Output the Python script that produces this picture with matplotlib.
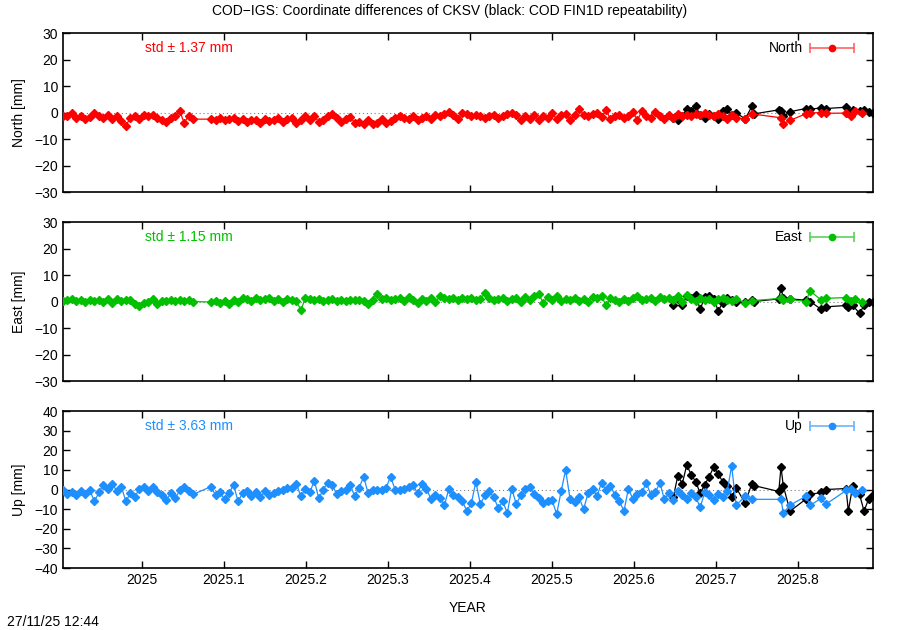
import matplotlib
matplotlib.use("Agg")
import matplotlib.pyplot as plt
import numpy as np

plt.rcParams['font.family'] = ['Liberation Sans', 'DejaVu Sans']
plt.rcParams['font.size'] = 10

# decimal year of day 0
T0 = 2024.9037

# COD-IGS differences, sampled every ~2 days (day offsets from T0)
days_cod = [0, 2, 4, 6, 8, 10, 12, 14, 16, 18, 20, 22, 24, 26, 28, 30, 32, 34, 36, 38,
            40, 42, 44, 46, 48, 50, 52, 54, 56, 58,
            66, 68, 70, 72, 74, 76, 78, 80, 82, 84, 86, 88, 90, 92, 94, 96, 98, 100, 102, 104,
            106, 108, 110, 112, 114, 116, 118, 120, 122, 124, 126, 128, 130,
            132, 134, 136, 138, 140, 142, 144, 146, 148, 150, 152, 154, 156, 158, 160, 162, 164,
            166, 168, 170, 172, 174, 176, 178, 180, 182, 184, 186, 188, 190, 192, 194, 196, 198,
            200, 202, 204, 206, 208, 210, 212, 214, 216, 218, 220, 222, 224, 226, 228, 230, 232,
            234, 236, 238, 240, 242, 244, 246, 248, 250, 252, 254, 256, 258, 260,
            262, 264, 266, 268, 270, 272, 274, 276, 278, 280, 282, 284, 286, 288, 290, 292, 294,
            296, 298, 300,
            304, 307, 320, 321, 324, 331, 333, 338, 340, 349, 351, 353, 356]

north_cod = [-1.5, -1.2, 0.0, -2.0, -1.5, -2.5, -1.8, -0.2, -1.5, -2.0, -0.8, -2.5, -1.2, -3.2, -5.0,
             -2.0, -1.5, -2.3, -1.0, -1.3, -1.1, -2.0, -2.8, -3.5, -2.2, -1.5, 0.4, -3.8, -1.2, -2.5,
             -2.5, -2.8, -2.2, -3.0, -2.5, -2.0, -3.2, -2.6, -3.5, -2.8, -3.0, -3.8, -2.5, -3.2, -2.8,
             -2.0, -3.5, -2.5, -2.0, -4.0, -2.8, -1.5, -3.0, -1.5, -3.5, -2.8, -1.2, -0.5, -2.0, -3.5,
             -2.5, -1.8, -3.8,
             -3.5, -4.2, -3.0, -4.5, -3.8, -2.5, -4.0, -3.2, -2.0, -1.5, -2.0, -2.5, -1.5, -3.0, -2.2,
             -1.2, -2.5, -0.8, -1.5, -0.5, 0.2, -1.0, -2.5, 0.0, -0.5, -1.5, -1.0, -1.2, -2.0, -1.5,
             -1.0, -2.0, -1.3, -0.5, -0.3, -1.0, -3.0, -1.5, -2.5, -0.8, -3.0, -1.2, -2.0, -0.2, -2.5,
             -1.0, -0.5, -2.8, -1.0, 1.5, -0.8, -1.5, -0.5, -0.2, -1.8, 1.0, -2.5, -1.5, -0.8, -2.0,
             -1.2, 0.2, -2.8, 0.5, -1.5,
             -2.0, 0.3, -1.5, -2.5, -1.0, -2.0, -0.5, -1.5, -0.8, -1.2, -0.5, -1.0, 0.0, -0.8, -1.5,
             -0.5, -1.2, -2.5, -1.0, -2.0,
             -2.5, -0.5, -2.0, -4.3, -3.0, -0.5, -0.2, 0.0, -0.3, -0.2, -1.2, 0.5, 0.0]

east_cod = [0.3, 0.5, 0.8, 0.2, 0.6, -0.3, 0.5, 0.2, 0.4, 0.0, 0.8, -0.5, 0.9, 0.3, 0.6,
            0.5, -0.8, -1.8, -0.5, -0.2, 0.8, -0.8, 0.2, 0.3, 0.5, 0.3, 0.6, 0.2, 0.4, 0.0,
            -0.2, 0.2, -0.5, 0.3, -1.0, 0.5, 0.0, 1.5, 1.0, 0.3, 1.3, 0.5, 1.0, 1.5, 0.2,
            0.8, 0.0, 1.0, 0.5, 0.2, -3.2, 1.2, 0.8, 0.5, 1.0, 0.3, 0.6, 0.8, 0.2, 0.5,
            0.3, 0.6, 0.4,
            0.5, 0.2, -0.8, 0.5, 3.0, 1.0, 1.5, 0.5, 0.8, 1.5, 0.3, 1.8, 0.5, -0.5, 1.0,
            0.2, 1.5, -0.2, 2.0, 1.2, 0.8, 1.5, 0.5, 1.3, 1.0, 1.5, 0.5, 1.0, 3.3, 1.2,
            0.5, 0.8, 1.5, 0.3, 1.0, 1.5, -0.3, 1.8, 0.5, 2.0, 3.0, -0.5, 1.8, 0.5, 2.0,
            0.2, 1.0, 0.5, 1.5, 0.3, 0.8, 0.0, 1.8, 1.2, 2.2, -1.5, 1.5, 0.5, 0.0, 1.0,
            0.3, 1.5, 2.2, 0.5, 1.0,
            1.5, 0.2, 1.8, 0.8, 1.5, 0.5, 2.0, 0.0, 2.5, 1.0, 0.3, 1.5, 0.5, 1.0, 0.0,
            0.8, 1.5, 0.5, 0.2, 1.0,
            -0.5, 0.3, 1.2, 0.5, 0.8, 0.0, 4.0, 0.5, 1.2, 1.5, 0.3, 1.0, 0.0]

up_cod = [0.0, -2.5, -1.5, -3.0, -1.0, -2.5, -0.5, -6.0, -1.5, 2.5, 0.5, 3.0, -1.0, 1.5, -6.0,
          -2.0, -4.0, 0.5, 1.5, -1.0, 1.5, -1.5, -3.0, -5.5, -2.0, -4.5, -0.5, 1.5, -1.0, -2.5,
          1.5, -3.0, -1.5, -5.0, -2.0, 2.5, -6.0, -2.0, -1.0, -3.5, -1.5, -4.0, -1.0, -3.0, -2.0,
          -1.0, 0.0, 1.0, 1.0, 3.0, -3.5, 0.5, -1.5, 4.5, -4.5, 0.0, 3.5, 2.5, -2.5, -1.0,
          -0.5, 2.5, -3.5,
          1.0, 6.5, -2.0, 0.0, -0.5, 0.0, 1.0, 6.5, 0.0, -0.5, 0.5, 1.5, 2.5, -2.0, 3.0,
          0.5, -5.0, -3.0, -4.5, -8.0, 0.5, -3.0, -4.0, -6.0, -11.0, -7.0, 4.0, -7.5, -3.0, -1.0,
          -4.0, -9.5, -6.0, -12.0, 0.5, -7.5, -3.0, 0.5, 1.5, -2.5, -4.5, -7.0, -6.0, -5.5, -12.5,
          -1.0, 10.0, -5.0, -6.5, -4.0, -10.0, -2.0, 0.5, -3.5, 3.5, -0.5, 2.0, -3.0, -6.0, -11.0,
          0.5, -5.0, -2.5, -1.5, 3.5,
          -3.0, -1.5, 3.5, -5.0, -2.0, -5.5, -1.0, -3.0, -5.0, -2.0, -4.0, -9.0, -1.5, -3.0, -5.5,
          -2.5, -4.0, -1.0, 12.0, -8.0,
          -3.5, -5.0, -5.0, -12.0, -8.0, -3.5, -8.0, -4.5, -7.5, -0.5, 0.5, -2.0, 0.0]

# COD FIN1D repeatability (black)
days_fin = [272, 274, 276, 278, 280, 282, 284, 286, 288, 290, 292, 294, 296, 298, 300,
            304, 307, 308, 319, 320, 321, 324, 331, 333, 338, 340, 349, 350, 352, 355, 357,
            359, 361]
north_fin = [-2.0, -3.0, -1.5, 1.5, 0.5, 2.3, -1.0, -2.0, -0.5, -1.5, -2.5, 0.5, 1.5, -1.0, 0.0,
             -2.5, 2.3, -0.5, 1.0, 0.5, -1.5, 0.3, 1.5, 1.2, 1.8, 1.5, 2.0, 0.0, 1.0, 0.5, 0.8,
             0.2, -0.3]
east_fin = [-1.3, 1.0, -1.2, 2.0, 1.5, 2.3, -3.0, 1.8, 2.0, 1.0, -3.5, -0.5, 1.5, 0.5, 0.0,
            0.0, 0.5, 0.0, 1.0, 5.0, 1.5, 1.0, 0.5, 0.0, -3.0, -2.0, -1.5, -2.0, -1.5, -4.5, -1.5,
            0.0, 0.0]
up_fin = [-4.0, 7.0, 3.0, 12.5, 7.5, 4.0, -2.0, 2.5, 6.5, 11.5, 8.0, 4.0, 2.0, -4.0, 1.0,
          -7.0, 3.0, 2.0, -1.0, 11.5, 2.0, -11.0, -5.0, -2.5, -1.5, 0.0, 0.5, -11.0, 2.0, -2.5,
          -11.0, -5.0, -3.0]

components = ['North', 'East', 'Up']
std_mm = ['1.37', '1.15', '3.63']
colors = ['#ff0000', '#00c000', '#1e8fff']
key_colors = ['#ff6464', '#5ad25a', '#6cb4ff']
ylims = [(-30, 30), (-30, 30), (-40, 40)]
xticks = [2025.0, 2025.1, 2025.2, 2025.3, 2025.4, 2025.5, 2025.6, 2025.7, 2025.8]
xticklabels = ['2025', '2025.1', '2025.2', '2025.3', '2025.4', '2025.5', '2025.6', '2025.7', '2025.8']

x_cod = T0 + np.array(days_cod) / 365.25
x_fin = T0 + np.array(days_fin) / 365.25
cod_vals = [north_cod, east_cod, up_cod]
fin_vals = [north_fin, east_fin, up_fin]

fig = plt.figure(figsize=(9, 6.3), dpi=100)
boxes = [(0.07, 0.6952, 0.9, 0.2524),
         (0.07, 0.3952, 0.9, 0.2524),
         (0.07, 0.0984, 0.9, 0.2492)]

for k, name in enumerate(components):
    ax = fig.add_axes(boxes[k])
    c = colors[k]
    ax.axhline(0, color='gray', ls=(0, (1, 2.5)), lw=0.8, zorder=1)
    ax.plot(x_fin, fin_vals[k], '-D', color='black', ms=4.2, lw=0.9, zorder=2)
    ax.plot(x_cod, cod_vals[k], '-D', color=c, ms=4.2, lw=0.9, zorder=3)

    ax.set_xlim(T0, T0 + 361 / 365.25)
    lo, hi = ylims[k]
    ax.set_ylim(lo, hi)
    ax.set_yticks(np.arange(lo, hi + 1, 10))
    ax.set_xticks(xticks)
    ax.set_xticklabels(xticklabels)
    ax.tick_params(direction='in', top=True, right=True, length=5, width=1,
                   labelbottom=(k == 2))
    for s in ax.spines.values():
        s.set_linewidth(1.2)
    ax.set_ylabel(name + ' [mm]', labelpad=6)

    # key: label plus an errorbar-style sample
    ky = 1 - 15.0 / (boxes[k][3] * 630)
    ax.text(0.101, ky, 'std \u00b1 ' + std_mm[k] + ' mm', transform=ax.transAxes,
            color=c, va='center', ha='left')
    ax.text(0.913, ky, name, transform=ax.transAxes, va='center', ha='right')
    kc = key_colors[k]
    ax.plot([0.922, 0.977], [ky, ky], '-', color=kc, lw=1.2, transform=ax.transAxes,
            clip_on=False)
    ax.plot([0.922, 0.977], [ky, ky], '|', color=kc, ms=7, mew=1.2,
            transform=ax.transAxes, clip_on=False)
    ax.plot([0.9495], [ky], 'o', color=c, ms=4.5, transform=ax.transAxes, clip_on=False)
    if k == 2:
        ax.set_xlabel('YEAR', labelpad=10)

fig.suptitle('COD\u2212IGS: Coordinate differences of CKSV (black: COD FIN1D repeatability)',
             y=0.993, fontsize=10)
fig.text(0.008, 0.006, '27/11/25 12:44', fontsize=10)

fig.savefig('out.png', dpi=100)
